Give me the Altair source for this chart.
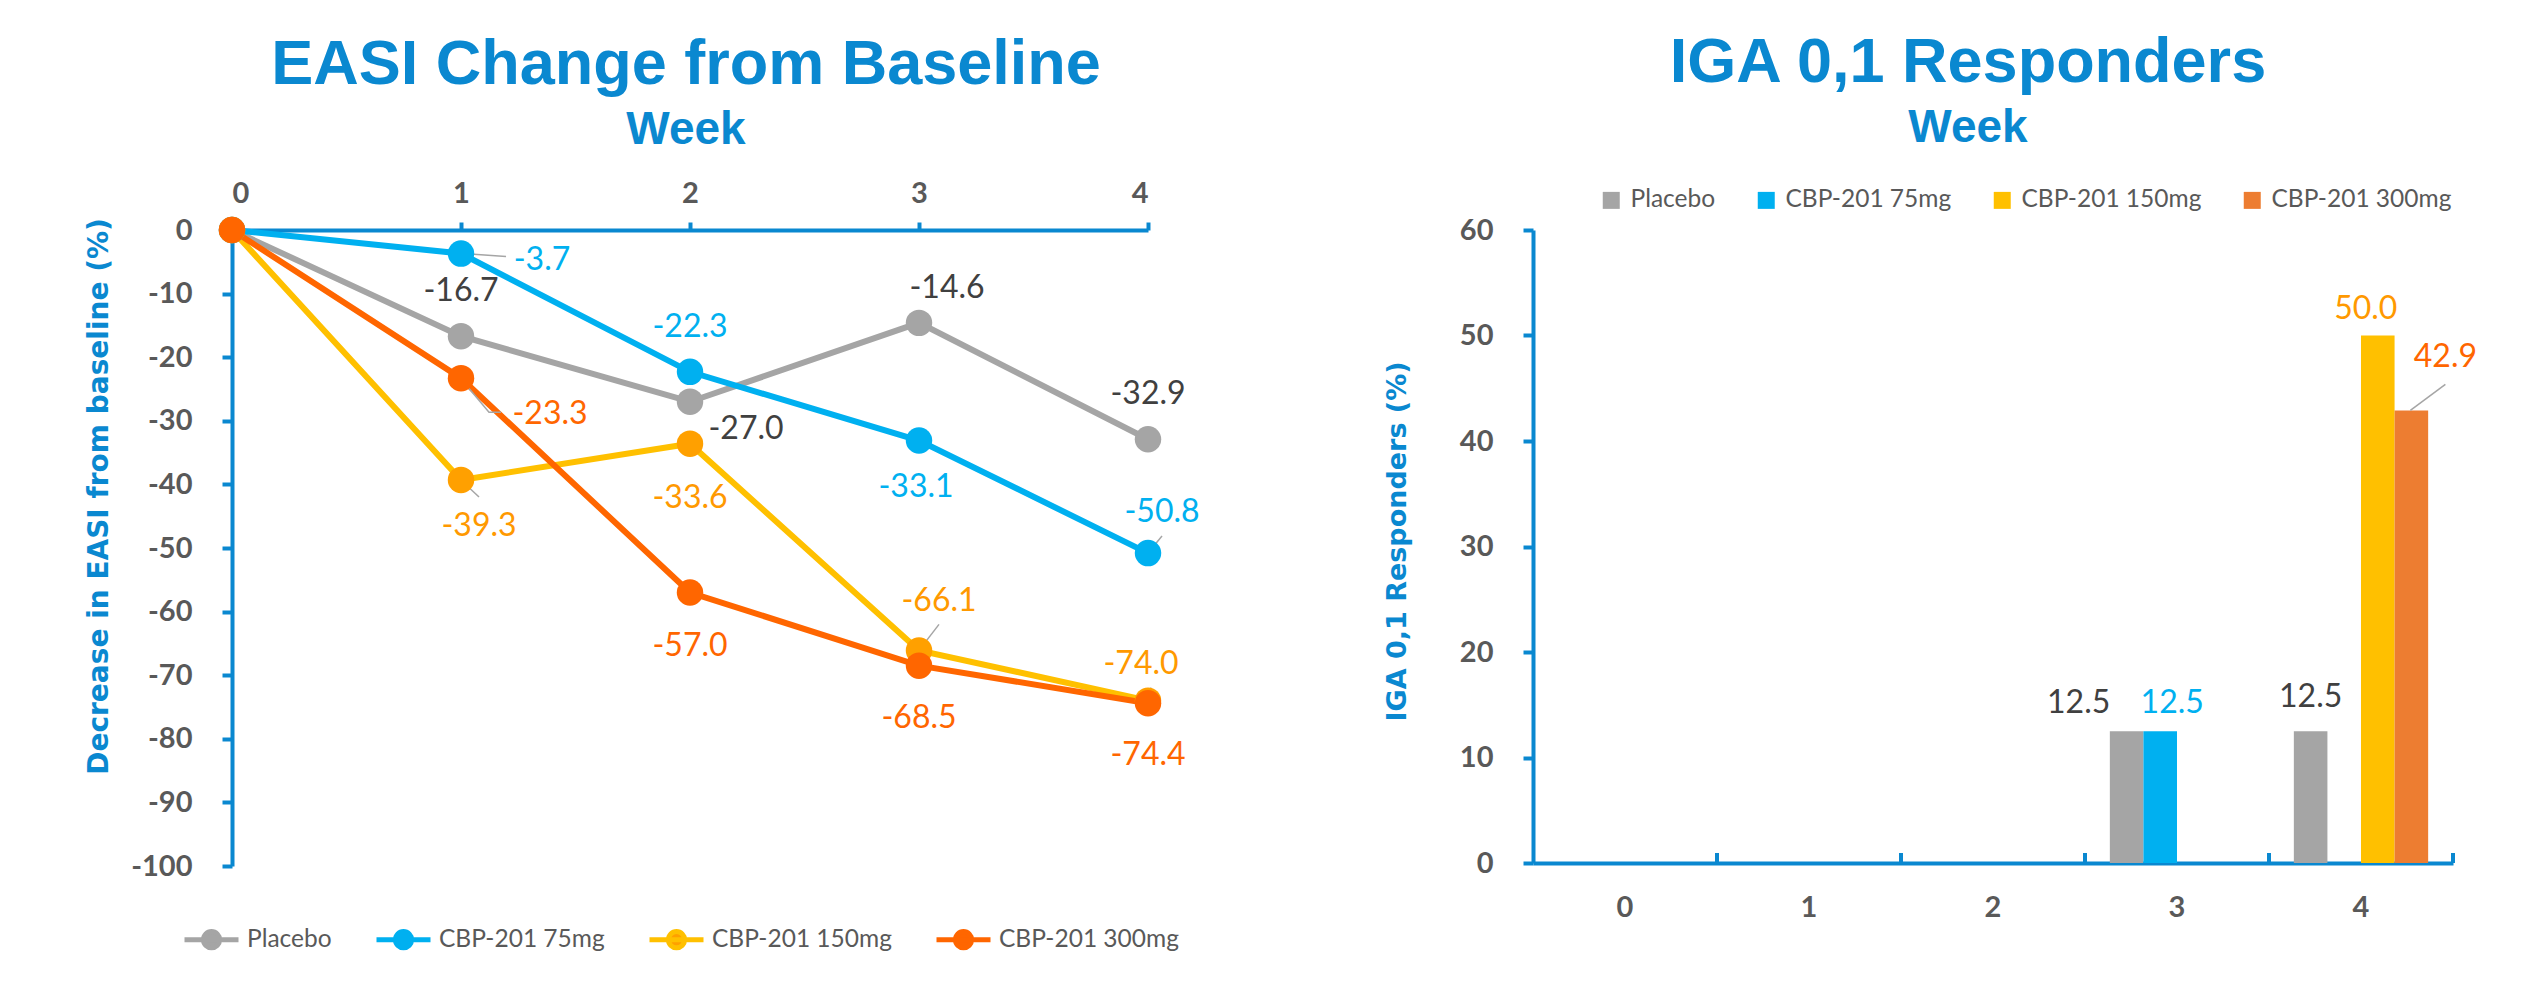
import altair as alt
import pandas as pd

# ------------------------------------------------------------------ data
weeks = [0, 1, 2, 3, 4]
series = ["Placebo", "CBP-201 75mg", "CBP-201 150mg", "CBP-201 300mg"]

easi_placebo = [0.0, -16.7, -27.0, -14.6, -32.9]
easi_75mg = [0.0, -3.7, -22.3, -33.1, -50.8]
easi_150mg = [0.0, -39.3, -33.6, -66.1, -74.0]
easi_300mg = [0.0, -23.3, -57.0, -68.5, -74.4]

iga_placebo = [0.0, 0.0, 0.0, 12.5, 12.5]
iga_75mg = [0.0, 0.0, 0.0, 12.5, 0.0]
iga_150mg = [0.0, 0.0, 0.0, 0.0, 50.0]
iga_300mg = [0.0, 0.0, 0.0, 0.0, 42.9]

easi_ticks = [-100, -90, -80, -70, -60, -50, -40, -30, -20, -10, 0]
iga_ticks = [0, 10, 20, 30, 40, 50, 60]

# ------------------------------------------------------------------ styles
BLUE = "#0A88D0"
GREY_TXT = "#595959"
line_colors = ["#A5A5A5", "#00B0F0", "#FFC000", "#FF6600"]
marker_colors = ["#A5A5A5", "#00B0F0", "#FFA000", "#FF6600"]
bar_colors = ["#A5A5A5", "#00B0F0", "#FFC000", "#ED7D31"]
label_colors = ["#404040", "#00B0F0", "#FF9900", "#FF6600"]

# pixel offsets (dx, dy) of each data label from its point
EASI_LABEL_OFFSET = {
    (0, 1): (0, -45), (0, 2): (56, 27), (0, 3): (28, -35), (0, 4): (0, -45),
    (1, 1): (81, 6), (1, 2): (0, -45), (1, 3): (-3, 46), (1, 4): (14, -41),
    (2, 1): (18, 46), (2, 2): (0, 54), (2, 3): (20, -49), (2, 4): (-7, -37),
    (3, 1): (89, 36), (3, 2): (0, 53), (3, 3): (0, 52), (3, 4): (0, 52),
}
# leader lines: symbol path in pixels relative to the point
EASI_LEADERS = {
    (1, 1): "M2,0L45,3",
    (3, 1): "M2,3L28,34L40,34",
    (2, 1): "M2,2L18,17",
    (1, 4): "M0,0L14,-17",
    (2, 3): "M0,0L20,-26",
    (2, 4): "M0,0L3,-13",
}
IGA_LABEL_OFFSET = {
    (0, 3): (-48, -28), (1, 3): (12, -28), (0, 4): (0, -34),
    (2, 4): (-12, -27), (3, 4): (34, -53),
}
IGA_LEADERS = {(3, 4): "M-1,0L34,-26"}


def frame(values_by_series):
    rows = []
    for i, (name, vals) in enumerate(zip(series, values_by_series)):
        for w, v in zip(weeks, vals):
            rows.append({"series": name, "idx": i, "week": w, "value": v,
                         "label": f"{v:.1f}"})
    return pd.DataFrame(rows)


easi_df = frame([easi_placebo, easi_75mg, easi_150mg, easi_300mg])
iga_df = frame([iga_placebo, iga_75mg, iga_150mg, iga_300mg])

LEG_PATH = ("M-1,0L1,0M0.3,0A0.3,0.3,0,1,1,-0.3,0A0.3,0.3,0,1,1,0.3,0Z")

# ------------------------------------------------------------------ left chart
x_left = alt.X(
    "week:Q",
    scale=alt.Scale(domain=[0, 4], nice=False, zero=False),
    axis=alt.Axis(orient="top", values=weeks, format="d", title=None,
                  tickSize=8, tickWidth=4, tickColor=BLUE, domainColor=BLUE,
                  domainWidth=4, labelPadding=14, grid=False,
                  labelFont="Lato", labelFontWeight="bold", labelFontSize=29,
                  labelColor=GREY_TXT),
)
y_left = alt.Y(
    "value:Q",
    scale=alt.Scale(domain=[-100, 0], nice=False),
    axis=alt.Axis(values=easi_ticks, title="Decrease in EASI  from baseline (%)",
                  tickSize=10, tickWidth=4, tickColor=BLUE, domainColor=BLUE,
                  domainWidth=4, labelPadding=30, grid=False,
                  labelExpr="'' + datum.value",
                  labelFont="Lato", labelFontWeight="bold", labelFontSize=29,
                  labelColor=GREY_TXT,
                  titleFont="DejaVu Sans", titleFontWeight="bold",
                  titleFontSize=28, titleColor=BLUE, titleX=-133, titleY=266,
                  titleAngle=270, titleBaseline="middle", titleAlign="center"),
)

leg_left = alt.Legend(
    orient="none", legendX=-50, legendY=680, direction="horizontal",
    columns=4, title=None, symbolType=LEG_PATH, symbolSize=2916,
    symbolStrokeWidth=5, labelFont="Lato", labelFontSize=24.5, labelLimit=0,
    labelColor=GREY_TXT, labelOffset=6, columnPadding=34,
)

lines = alt.Chart(easi_df).mark_line(strokeWidth=6).encode(
    x=x_left, y=y_left,
    stroke=alt.Stroke("series:N", scale=alt.Scale(domain=series, range=line_colors),
                      legend=leg_left),
    order=alt.Order("week:Q"),
)
points = alt.Chart(easi_df).mark_circle(size=700, opacity=1).encode(
    x=x_left, y=y_left,
    fill=alt.Fill("series:N", scale=alt.Scale(domain=series, range=marker_colors),
                  legend=leg_left),
    order=alt.Order("idx:Q"),
)

left_layers = [lines]
for (i, w), path in EASI_LEADERS.items():
    left_layers.append(
        alt.Chart(easi_df)
        .transform_filter((alt.datum.idx == i) & (alt.datum.week == w))
        .mark_point(shape=path, size=4, stroke="#A5A5A5", strokeWidth=1.5,
                    filled=False, opacity=1)
        .encode(x=x_left, y=y_left)
    )
left_layers.append(points)
for (i, w), (dx, dy) in EASI_LABEL_OFFSET.items():
    left_layers.append(
        alt.Chart(easi_df)
        .transform_filter((alt.datum.idx == i) & (alt.datum.week == w))
        .mark_text(dx=dx, dy=dy, font="Lato", fontSize=32, color=label_colors[i],
                   align="center", baseline="middle")
        .encode(x=x_left, y=y_left, text="label:N")
    )

left = alt.layer(*left_layers).properties(
    width=916, height=636,
    title=alt.Title(
        text="EASI Change from Baseline", subtitle="Week", anchor="middle",
        frame="group", font="Liberation Sans", fontSize=63, fontWeight="bold",
        color=BLUE, subtitleFont="Liberation Sans", subtitleFontSize=46,
        subtitleFontWeight="bold", subtitleColor=BLUE, subtitlePadding=11,
        offset=26, dx=-4,
    ),
)

# ------------------------------------------------------------------ right chart
PAD_IN = 0.27
band_scale = alt.Scale(domain=weeks, paddingInner=PAD_IN, paddingOuter=PAD_IN / 2)
x_right = alt.X(
    "week:N",
    scale=band_scale,
    axis=alt.Axis(title=None, ticks=False, domainColor=BLUE, domainWidth=4,
                  labelPadding=30, labelAngle=0, grid=False,
                  labelFont="Lato", labelFontWeight="bold", labelFontSize=29,
                  labelColor=GREY_TXT),
)
x_right_plain = alt.X("week:N", scale=band_scale)
xo = alt.XOffset("series:N", scale=alt.Scale(domain=series))
y_right = alt.Y(
    "value:Q",
    scale=alt.Scale(domain=[0, 60], nice=False),
    axis=alt.Axis(values=iga_ticks, title="IGA 0,1 Responders (%)",
                  tickSize=10, tickWidth=4, tickColor=BLUE, domainColor=BLUE,
                  domainWidth=4, labelPadding=30, grid=False,
                  labelFont="Lato", labelFontWeight="bold", labelFontSize=29,
                  labelColor=GREY_TXT,
                  titleFont="DejaVu Sans", titleFontWeight="bold",
                  titleFontSize=27, titleColor=BLUE, titleX=-136, titleY=311,
                  titleAngle=270, titleBaseline="middle", titleAlign="center"),
)

bars = alt.Chart(iga_df).mark_bar().encode(
    x=x_right, xOffset=xo, y=y_right,
    color=alt.Color("series:N", scale=alt.Scale(domain=series, range=bar_colors),
                    legend=alt.Legend(
                        orient="none", legendX=66, legendY=-42,
                        direction="horizontal", columns=4, title=None,
                        symbolType="square", symbolSize=289, symbolStrokeWidth=0,
                        labelFont="Lato", labelFontSize=24.5, labelColor=GREY_TXT,
                        labelLimit=0, labelOffset=7, columnPadding=38)),
)

half_gap = 920 / len(weeks) * PAD_IN / 2
ticks_in = alt.Chart(pd.DataFrame({"week": weeks[1:]})).mark_rule(
    color=BLUE, strokeWidth=4, xOffset=-half_gap, y2Offset=-10
).encode(x=alt.X("week:N", bandPosition=0, scale=band_scale),
         y=alt.datum(0), y2=alt.datum(0))
tick_end = alt.Chart(pd.DataFrame({"week": weeks[-1:]})).mark_rule(
    color=BLUE, strokeWidth=4, xOffset=half_gap, y2Offset=-10
).encode(x=alt.X("week:N", bandPosition=1, scale=band_scale),
         y=alt.datum(0), y2=alt.datum(0))

right_layers = [bars, ticks_in, tick_end]
for (i, w), path in IGA_LEADERS.items():
    right_layers.append(
        alt.Chart(iga_df)
        .transform_filter((alt.datum.idx == i) & (alt.datum.week == w))
        .mark_point(shape=path, size=4, stroke="#A5A5A5", strokeWidth=1.5,
                    filled=False, opacity=1)
        .encode(x=x_right_plain, xOffset=xo, y=y_right)
    )
for (i, w), (dx, dy) in IGA_LABEL_OFFSET.items():
    right_layers.append(
        alt.Chart(iga_df)
        .transform_filter((alt.datum.idx == i) & (alt.datum.week == w))
        .mark_text(dx=dx, dy=dy, font="Lato", fontSize=32, color=label_colors[i],
                   align="center", baseline="middle")
        .encode(x=x_right_plain, xOffset=xo, y=y_right, text="label:N")
    )

right = alt.layer(*right_layers).properties(
    width=920, height=633,
    title=alt.Title(
        text="IGA 0,1 Responders", subtitle="Week", anchor="middle",
        frame="group", font="Liberation Sans", fontSize=63, fontWeight="bold",
        color=BLUE, subtitleFont="Liberation Sans", subtitleFontSize=46,
        subtitleFontWeight="bold", subtitleColor=BLUE, subtitlePadding=11,
        offset=37, dx=-25,
    ),
)

chart = (
    alt.hconcat(left, right, spacing=183)
    .resolve_scale(color="independent", fill="independent", stroke="independent")
    .resolve_legend(color="independent", fill="independent", stroke="independent")
    .properties(padding={"left": 84, "top": 32, "right": 0, "bottom": 0},
                background="white")
    .configure_view(stroke=None)
)

chart.save("out.html", embed_options={"renderer": "svg", "actions": False})
